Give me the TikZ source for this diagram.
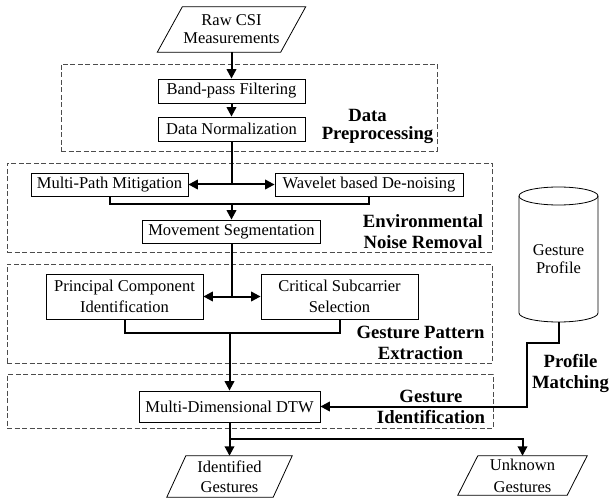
\documentclass[tikz,border=0pt]{standalone}
\usepackage{fontspec}
\setmainfont{Liberation Serif}
\usetikzlibrary{arrows.meta}
\newcommand\drawpara[2]{\draw[line width=0.8pt] ([xshift=#2]#1.north west) -- ([xshift=#2]#1.north east) -- ([xshift=-#2]#1.south east) -- ([xshift=-#2]#1.south west) -- cycle;}
\begin{document}
\begin{tikzpicture}[x=1pt,y=-1pt,
  box/.style={draw, line width=0.8pt, inner sep=0pt, align=center, font=\fontsize{16.5}{20}\selectfont},
  plain/.style={inner sep=0pt, align=center, font=\fontsize{16.5}{20}\selectfont},
  group/.style={draw=black!70, dash pattern=on 5pt off 2.5pt, line width=0.8pt, inner sep=0pt},
  lbl/.style={inner sep=0pt, align=center, font=\fontsize{18.7}{21}\selectfont\bfseries},
  conn/.style={line width=2pt},
  arr/.style={line width=2pt, -{Triangle[length=9.5pt,width=9.5pt]}}]
\useasboundingbox (0,0) rectangle (611,500);

% group frames
\node[group, minimum width=376pt, minimum height=87pt] (gdp) at (249,107.5) {};
\node[group, minimum width=485pt, minimum height=89pt] (genv) at (249.5,207.5) {};
\node[group, minimum width=485pt, minimum height=99pt] (ggp) at (249.5,313.5) {};
\node[group, minimum width=486pt, minimum height=54pt] (ggi) at (250,401) {};

% group labels
\node[lbl] (ldp1) at (367.5,115) {Data};
\node[lbl] (ldp2) at (377.5,135) {Preprocessing};
\node[lbl] (lenv) at (423,231.5) {Environmental\\Noise Removal};
\node[lbl] (lgp) at (420.5,343) {Gesture Pattern\\Extraction};
\node[lbl] (lgi) at (431,406.5) {Gesture\\Identification};
\node[lbl] (lpm) at (570.5,373.5) {Profile\\Matching};

% input
\node[plain, minimum width=123pt, minimum height=45pt, font=\fontsize{16.5}{18}\selectfont] (raw) at (231.5,29.5) {Raw CSI\\Measurements};
\drawpara{raw}{12.5pt}

% process boxes
\node[box, minimum width=147pt, minimum height=24pt] (bpf) at (231.5,91) {Band-pass Filtering};
\node[box, minimum width=147pt, minimum height=24pt] (dn) at (231.5,129) {Data Normalization};
\node[box, minimum width=157pt, minimum height=23pt] (mpm) at (109.5,184.5) {Multi-Path Mitigation};
\node[box, minimum width=188pt, minimum height=23pt] (wdn) at (369,184.5) {Wavelet based De-noising};
\node[box, minimum width=178pt, minimum height=23pt] (ms) at (231.5,231.5) {Movement Segmentation};
\node[box, minimum width=157pt, minimum height=45pt, font=\fontsize{16.5}{21}\selectfont] (pci) at (124.5,296.5) {Principal Component\\Identification};
\node[box, minimum width=157pt, minimum height=45pt, font=\fontsize{16.5}{21}\selectfont] (css) at (339.5,296.5) {Critical Subcarrier\\Selection};
\node[box, minimum width=181pt, minimum height=31pt] (dtw) at (229.5,406.5) {Multi-Dimensional DTW};

% gesture profile database
\draw[line width=0.8pt] (519,196) -- (519,313) arc[start angle=180, end angle=360, x radius=39.5pt, y radius=9pt] -- (598,196) arc[start angle=0, end angle=180, x radius=39.5pt, y radius=9pt] -- cycle;
\draw[line width=0.8pt] (519,196) arc[start angle=180, end angle=360, x radius=39.5pt, y radius=9pt];
\node[plain, font=\fontsize{16.5}{18}\selectfont] (gp) at (558.5,259) {Gesture\\Profile};
\coordinate (gpb) at (558.5,322);

% outputs
\node[plain, minimum width=106pt, minimum height=41pt] (idg) at (229.5,476.5) {Identified\\Gestures};
\drawpara{idg}{9.5pt}
\node[plain, minimum width=109pt, minimum height=39pt, font=\fontsize{16.5}{22}\selectfont] (ukg) at (522.5,475.5) {Unknown\\Gestures};
\drawpara{ukg}{10pt}

% connectors
\draw[arr] (raw.south) -- (bpf.north);
\draw[arr] (bpf.south) -- (dn.north);
\coordinate (j1) at (231.5,184.5);
\draw[conn] (dn.south) -- (j1);
\draw[arr] (j1) -- (mpm.east);
\draw[arr] (j1) -- (wdn.west);
\coordinate (b1) at (231.5,204);
\draw[conn] (mpm.south) |- (wdn.south |- b1) -- (wdn.south);
\draw[arr] (b1) -- (ms.north);
\coordinate (j2) at (231.5,296.5);
\draw[conn] (ms.south) -- (j2);
\draw[arr] (j2) -- (pci.east);
\draw[arr] (j2) -- (css.west);
\coordinate (b2) at (229.5,333);
\draw[conn] (pci.south) |- (css.south |- b2) -- (css.south);
\draw[arr] (b2) -- (dtw.north);
\coordinate (pm1) at (527,343);
\draw[arr] (gpb) |- (pm1) |- (dtw.east);
\coordinate (o1) at (229.5,439);
\draw[conn] (dtw.south) -- (o1);
\draw[arr] (o1) -- (idg.north);
\draw[arr] (o1) -| (ukg.north);
\end{tikzpicture}
\end{document}
